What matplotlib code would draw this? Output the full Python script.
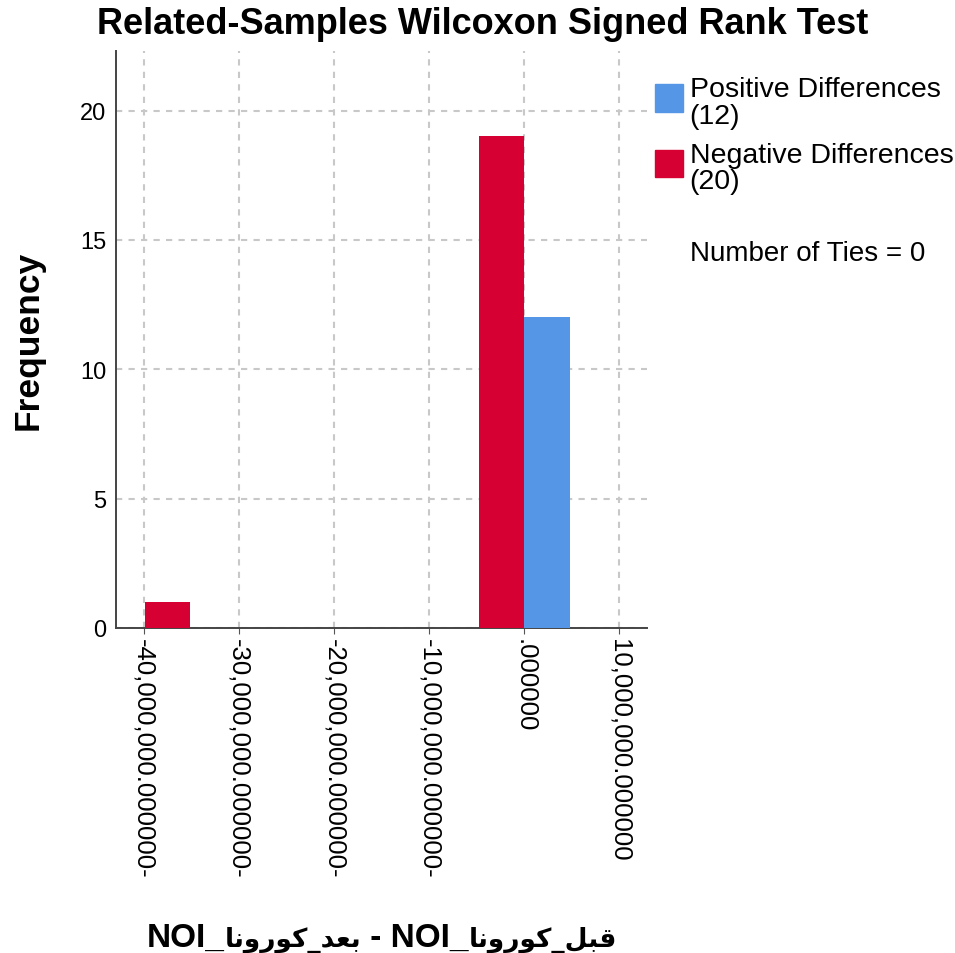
import re

import matplotlib
matplotlib.use("Agg")
import matplotlib.pyplot as plt
from matplotlib.patches import Rectangle

# data
neg_lefts = [-39.9e6, -4.8e6]
neg_counts = [1, 19]
pos_lefts = [0.0]
pos_counts = [12]
bin_width = 4.8e6

x_ticks = [-40e6, -30e6, -20e6, -10e6, 0, 10e6]
x_tick_labels = ["-40,000,000.000000-", "-30,000,000.000000-", "-20,000,000.000000-",
                 "-10,000,000.000000-", ".000000", "10,000,000.000000"]
y_ticks = [0, 5, 10, 15, 20]

title = "Related-Samples Wilcoxon Signed Rank Test"
x_label = "NOI_بعد_كورونا - NOI_قبل_كورونا"
legend_labels = ["Positive Differences\n(12)", "Negative Differences\n(20)"]
ties_text = "Number of Ties = 0"

RED = "#d70032"
BLUE = "#5597e6"
legend_colors = [BLUE, RED]

ARABIC_RUN = r"([\u0600-\u06ff]+(?:_[\u0600-\u06ff]+)*)"

# tiny arabic shaper: isolated, final, initial, medial
FORMS = {
    "ا": ("\ufe8d", "\ufe8e", None, None),
    "ب": ("\ufe8f", "\ufe90", "\ufe91", "\ufe92"),
    "د": ("\ufea9", "\ufeaa", None, None),
    "ر": ("\ufead", "\ufeae", None, None),
    "ع": ("\ufec9", "\ufeca", "\ufecb", "\ufecc"),
    "ق": ("\ufed5", "\ufed6", "\ufed7", "\ufed8"),
    "ك": ("\ufed9", "\ufeda", "\ufedb", "\ufedc"),
    "ل": ("\ufedd", "\ufede", "\ufedf", "\ufee0"),
    "ن": ("\ufee5", "\ufee6", "\ufee7", "\ufee8"),
    "و": ("\ufeed", "\ufeee", None, None),
}


def joins_next(ch):
    return ch in FORMS and FORMS[ch][2] is not None


def shape_run(run):
    out = []
    for i, ch in enumerate(run):
        if ch not in FORMS:
            out.append(ch)
            continue
        prev_j = i > 0 and joins_next(run[i - 1])
        next_j = joins_next(ch) and i + 1 < len(run) and run[i + 1] in FORMS
        iso, fin, ini, med = FORMS[ch]
        if prev_j and next_j:
            out.append(med)
        elif prev_j:
            out.append(fin)
        elif next_j:
            out.append(ini)
        else:
            out.append(iso)
    # right-to-left run, so reverse for drawing
    return "".join(out)[::-1]


def draw_mixed_label(fig, text, x_center, y, latin_size, arabic_size):
    renderer = fig.canvas.get_renderer()
    parts = []
    for i, piece in enumerate(re.split(ARABIC_RUN, text)):
        if not piece:
            continue
        is_arabic = i % 2 == 1
        t = fig.text(0, y, shape_run(piece) if is_arabic else piece,
                     ha="left", va="baseline", fontweight="bold",
                     fontsize=arabic_size if is_arabic else latin_size,
                     family="DejaVu Sans" if is_arabic else "Liberation Sans")
        parts.append((t, t.get_window_extent(renderer).width))
    total = sum(w for _, w in parts)
    x = x_center * fig.bbox.width - total / 2
    for t, w in parts:
        t.set_x(x / fig.bbox.width)
        x += w


fig = plt.figure(figsize=(9.55, 9.54), dpi=100)
ax = fig.add_axes([0.1215, 0.3407, 0.556, 0.6048])

ax.bar(neg_lefts, neg_counts, width=bin_width, align="edge", color=RED, zorder=3)
ax.bar(pos_lefts, pos_counts, width=bin_width, align="edge", color=BLUE, zorder=3)

ax.set_xlim(-42.9e6, 12.9e6)
ax.set_ylim(0, 22.3)
ax.set_xticks(x_ticks)
ax.set_xticklabels(x_tick_labels, rotation=270, va="top", ha="center",
                   family="Liberation Sans", fontsize=18.5)
ax.set_yticks(y_ticks)
ax.set_yticklabels([str(v) for v in y_ticks], family="Liberation Sans", fontsize=17)
ax.tick_params(axis="x", length=4, color="#555555", pad=3)
ax.tick_params(axis="y", length=0, pad=7)

ax.grid(True, linestyle=(0, (3, 3)), color="#c8c8c8", linewidth=1.5, zorder=0)
for side in ("top", "right"):
    ax.spines[side].set_visible(False)
for side in ("left", "bottom"):
    ax.spines[side].set_color("#444444")
    ax.spines[side].set_linewidth(1.4)

fig.text(0.505, 0.974, title, ha="center", va="center", fontsize=26,
         fontweight="bold", family="Liberation Sans")
fig.text(0.029, 0.643, "Frequency", ha="center", va="center", rotation=90,
         fontsize=25.5, fontweight="bold", family="Liberation Sans")
draw_mixed_label(fig, x_label, 0.400, 0.008, 24, 19)

# legend drawn in figure coordinates
for i, (label, color) in enumerate(zip(legend_labels, legend_colors)):
    y_top = 0.911 - i * 0.069
    fig.patches.append(Rectangle((0.686, y_top - 0.029), 0.029, 0.029, color=color,
                                 transform=fig.transFigure, figure=fig))
    fig.text(0.722, y_top + 0.008, label, ha="left", va="top", fontsize=20.5,
             family="Liberation Sans", linespacing=1.02)
fig.text(0.722, 0.734, ties_text, ha="left", va="center", fontsize=20,
         family="Liberation Sans")

fig.savefig("out.png", dpi=100)
